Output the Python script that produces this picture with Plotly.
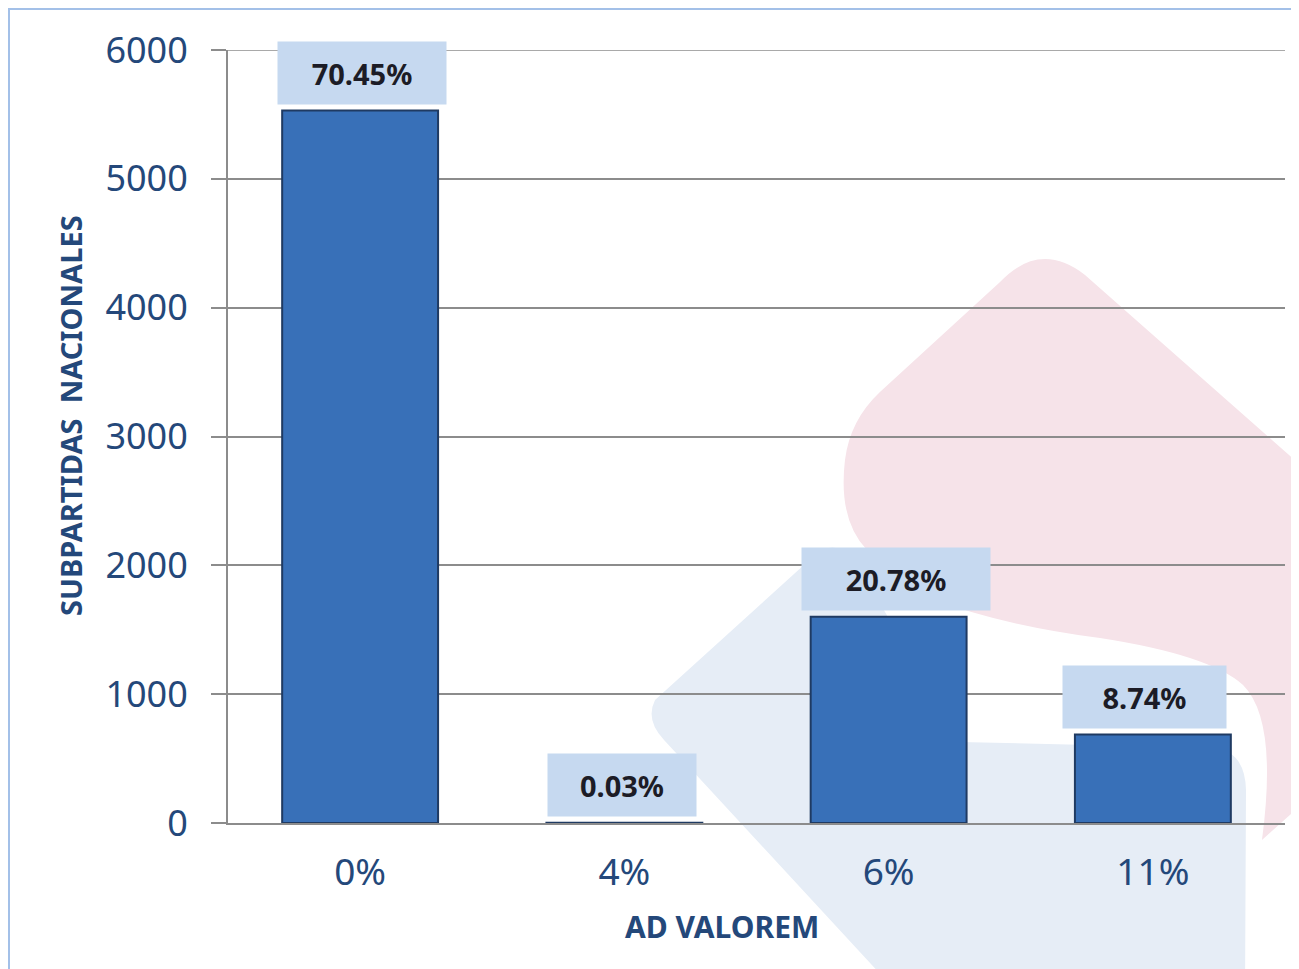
import plotly.graph_objects as go

# ---- data ----
categories = ["0%", "4%", "6%", "11%"]
values = [5530, 2, 1600, 686]
pct_labels = ["70.45%", "0.03%", "20.78%", "8.74%"]
y_ticks = [0, 1000, 2000, 3000, 4000, 5000, 6000]

# ---- label box styling (pixels) ----
box_widths = [166, 146, 186, 161]
box_xshift = [2, -2, 7, -8]

OFF = 8  # page body margin
W, H = 1291, 961
L, R, T, B = 220, 14, 42, 146
PW, PH = W - L - R, H - T - B

def px(x):
    return (x - OFF - L) / PW

def py(y):
    return (OFF + H - B - y) / PH

def path(points_cmds):
    out = []
    for cmd, pts in points_cmds:
        out.append(cmd + " ".join(f"{px(x):.4f},{py(y):.4f}" for x, y in pts))
    return " ".join(out) + " Z"

FONT = "Noto Sans, Open Sans, DejaVu Sans, sans-serif"
TXT = "#24487a"
GRID = "#8c8c8c"

fig = go.Figure()
fig.add_trace(go.Bar(
    x=categories, y=values,
    marker=dict(color="#3870b8", line=dict(color="#1f3a62", width=2)),
    width=0.59,
    hoverinfo="x+y",
))

# percentage label boxes
for c, v, t, bw, xs in zip(categories, values, pct_labels, box_widths, box_xshift):
    fig.add_annotation(
        x=c, y=v, xref="x", yref="y", text=f"<b>{t}</b>",
        showarrow=False, yanchor="bottom", xanchor="center", yshift=6, xshift=xs,
        bgcolor="#c6d9f0", width=bw, height=60,
        font=dict(family=FONT, size=29, color="#1c1c26"),
    )

# watermark shapes (decorative background)
pink = path([
    ("M", [(867, 550)]),
    ("Q", [(838, 520), (845, 460)]),
    ("Q", [(850, 420), (880, 392)]),
    ("L", [(1000, 282)]),
    ("Q", [(1040, 240), (1085, 275)]),
    ("L", [(1340, 500)]),
    ("L", [(1340, 770)]),
    ("L", [(1262, 840)]),
    ("Q", [(1278, 720), (1243, 685)]),
    ("Q", [(1210, 655), (1100, 638)]),
    ("Q", [(1000, 625), (930, 598)]),
    ("Q", [(885, 578), (867, 550)]),
])
blue = path([
    ("M", [(655, 700)]),
    ("L", [(815, 555)]),
    ("Q", [(835, 538), (855, 560)]),
    ("L", [(960, 742)]),
    ("L", [(1215, 748)]),
    ("Q", [(1245, 752), (1246, 790)]),
    ("L", [(1245, 990)]),
    ("L", [(895, 990)]),
    ("L", [(664, 740)]),
    ("Q", [(645, 720), (655, 700)]),
])
fig.add_shape(type="path", path=pink, xref="paper", yref="paper",
              fillcolor="#f6e3e9", line=dict(width=0), layer="below")
fig.add_shape(type="path", path=blue, xref="paper", yref="paper",
              fillcolor="#e6edf6", line=dict(width=0), layer="below")
# outer frame
fig.add_shape(type="rect", xref="paper", yref="paper",
              x0=px(9), y0=py(1100), x1=px(1400), y1=py(9),
              line=dict(color="#a3c0e8", width=2), fillcolor="rgba(0,0,0,0)",
              layer="below")
# top gridline at the range edge
fig.add_shape(type="line", xref="paper", yref="y", x0=0, x1=1,
              y0=y_ticks[-1], y1=y_ticks[-1],
              line=dict(color=GRID, width=1.5), layer="below")

# axis titles
fig.add_annotation(x=px(722), y=py(926), xref="paper", yref="paper",
                   xanchor="center", yanchor="middle",
                   text="<b>AD VALOREM</b>", showarrow=False,
                   font=dict(family=FONT, size=30, color=TXT))
fig.add_annotation(x=px(70), y=py(416), xref="paper", yref="paper",
                   xanchor="center", yanchor="middle",
                   text="<b>SUBPARTIDAS  NACIONALES</b>", showarrow=False,
                   textangle=-90,
                   font=dict(family=FONT, size=29, color=TXT))

fig.update_layout(
    width=W, height=H,
    margin=dict(l=L, r=R, t=T, b=B, pad=0),
    paper_bgcolor="white", plot_bgcolor="rgba(0,0,0,0)",
    showlegend=False, bargap=0.41,
    xaxis=dict(
        showline=True, linecolor=GRID, linewidth=2,
        ticks="outside", ticklen=16, tickcolor="rgba(0,0,0,0)",
        tickfont=dict(family=FONT, size=37, color=TXT),
        showgrid=False,
    ),
    yaxis=dict(
        range=[0, 6000], tickvals=y_ticks,
        showline=True, linecolor=GRID, linewidth=2,
        ticks="outside", ticklen=15, tickcolor=GRID, tickwidth=2,
        showgrid=True, gridcolor=GRID, gridwidth=1.5,
        zeroline=False,
        tickfont=dict(family=FONT, size=36, color=TXT),
        ticklabelstandoff=16,
    ),
)

fig.write_html("out.html")
